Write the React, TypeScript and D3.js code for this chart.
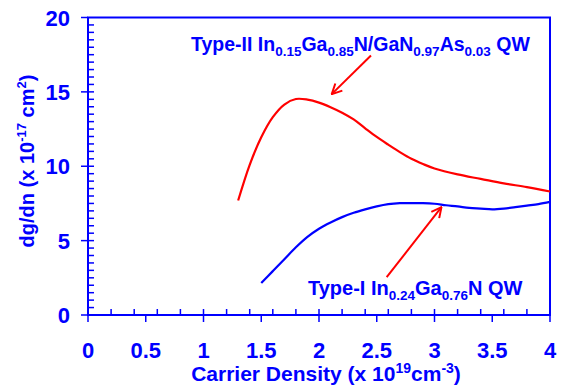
import React from 'react';
import * as d3 from 'd3';

// Type-II InGaN/GaNAs QW (red)
const redX = [1.3, 1.4, 1.5, 1.6, 1.7, 1.8, 1.9, 2.0, 2.1, 2.2, 2.3, 2.4, 2.5, 2.6, 2.7, 2.8, 2.9, 3.0, 3.2, 3.4, 3.6, 3.8, 4.0];
const redY = [7.7, 10.1, 11.95, 13.3, 14.15, 14.52, 14.48, 14.28, 13.97, 13.6, 13.15, 12.55, 11.97, 11.45, 10.95, 10.5, 10.15, 9.85, 9.45, 9.15, 8.85, 8.6, 8.3];

// Type-I InGaN QW (blue)
const blueX = [1.5, 1.6, 1.7, 1.8, 1.9, 2.0, 2.1, 2.2, 2.3, 2.4, 2.5, 2.6, 2.7, 2.8, 2.9, 3.0, 3.1, 3.2, 3.3, 3.4, 3.5, 3.6, 3.7, 3.8, 3.9, 4.0];
const blueY = [2.15, 2.95, 3.75, 4.55, 5.25, 5.8, 6.22, 6.58, 6.87, 7.1, 7.3, 7.45, 7.52, 7.52, 7.52, 7.48, 7.38, 7.3, 7.2, 7.15, 7.1, 7.15, 7.25, 7.35, 7.45, 7.6];

const xMajor = [0, 0.5, 1, 1.5, 2, 2.5, 3, 3.5, 4];
const xMinor = d3.range(0, 20).map(i => i * 0.2);
const yMajor = [0, 5, 10, 15, 20];
const yMinor = d3.range(0, 40).map(i => i * 0.5);

// arrows: [from, to] in data units
const arrowII = [[2.45, 17.45], [2.11, 14.85]];
const arrowI = [[2.586, 2.54], [3.06, 7.25]];

const BLUE = '#0000ff';
const RED = '#ff0000';
const FONT = '"Liberation Sans", Arial, sans-serif';

export default function App() {
  const width = 570;
  const height = 387;
  const m = { left: 88, right: 550, top: 17.5, bottom: 315 };

  const x = d3.scaleLinear().domain([0, 4]).range([m.left, m.right]);
  const y = d3.scaleLinear().domain([0, 20]).range([m.bottom, m.top]);

  const line = d3.line<[number, number]>()
    .x(d => x(d[0]))
    .y(d => y(d[1]))
    .curve(d3.curveCatmullRom.alpha(0.5));

  const redPath = line(redX.map((v, i) => [v, redY[i]] as [number, number])) || '';
  const bluePath = line(blueX.map((v, i) => [v, blueY[i]] as [number, number])) || '';

  return (
    <div style={{ position: 'fixed', left: 0, top: 0 }}>
      <svg width={width} height={height} style={{ display: 'block', background: '#fff' }} fontFamily={FONT}>
        <defs>
          <marker id="arr" viewBox="0 0 12 12" refX="11" refY="6" markerWidth="12" markerHeight="12" markerUnits="userSpaceOnUse" orient="auto">
            <path d="M1,1 L11,6 L1,11" fill="none" stroke={RED} strokeWidth="2" />
          </marker>
        </defs>

        {/* minor ticks (inside) */}
        {xMinor.map(v => (
          <line key={'xm' + v} x1={x(v)} x2={x(v)} y1={m.bottom} y2={m.bottom - 6} stroke={BLUE} strokeWidth="1.5" />
        ))}
        {yMinor.map(v => (
          <line key={'ym' + v} x1={m.left} x2={m.left + 6} y1={y(v)} y2={y(v)} stroke={BLUE} strokeWidth="1.5" />
        ))}
        {/* major ticks (outside) */}
        {xMajor.map(v => (
          <line key={'xM' + v} x1={x(v)} x2={x(v)} y1={m.bottom} y2={m.bottom + 7} stroke={BLUE} strokeWidth="1.5" />
        ))}
        {yMajor.map(v => (
          <line key={'yM' + v} x1={m.left - 7} x2={m.left} y1={y(v)} y2={y(v)} stroke={BLUE} strokeWidth="1.5" />
        ))}

        {/* frame */}
        <rect x={m.left} y={m.top} width={m.right - m.left} height={m.bottom - m.top} fill="none" stroke={BLUE} strokeWidth="2" />

        {/* tick labels */}
        {xMajor.map(v => (
          <text key={'xl' + v} x={x(v)} y={358} textAnchor="middle" fontSize="22" fontWeight="bold" fill={BLUE}>{v}</text>
        ))}
        {yMajor.map(v => (
          <text key={'yl' + v} x={70} y={y(v) + 8} textAnchor="end" fontSize="22" fontWeight="bold" fill={BLUE}>{v}</text>
        ))}

        {/* axis titles */}
        <text x={326} y={381} textAnchor="middle" fontSize="21" fontWeight="bold" fill={BLUE}>
          Carrier Density (x 10<tspan fontSize="14" dy="-8">19</tspan><tspan dy="8">cm</tspan><tspan fontSize="14" dy="-8">-3</tspan><tspan dy="8">)</tspan>
        </text>
        <text transform="translate(34,161) rotate(-90)" textAnchor="middle" fontSize="20" fontWeight="bold" fill={BLUE}>
          dg/dn (x 10<tspan fontSize="13" dy="-8">-17</tspan><tspan dy="8"> cm</tspan><tspan fontSize="13" dy="-8">2</tspan><tspan dy="8">)</tspan>
        </text>

        {/* curves */}
        <path d={redPath} fill="none" stroke={RED} strokeWidth="2.2" />
        <path d={bluePath} fill="none" stroke={BLUE} strokeWidth="2.2" />

        {/* arrows */}
        <line x1={x(arrowII[0][0])} y1={y(arrowII[0][1])} x2={x(arrowII[1][0])} y2={y(arrowII[1][1])} stroke={RED} strokeWidth="2" markerEnd="url(#arr)" />
        <line x1={x(arrowI[0][0])} y1={y(arrowI[0][1])} x2={x(arrowI[1][0])} y2={y(arrowI[1][1])} stroke={RED} strokeWidth="2" markerEnd="url(#arr)" />

        {/* annotations */}
        <text x={191} y={51} fontSize="19.5" fontWeight="bold" fill={BLUE}>
          Type-II In<tspan fontSize="13.5" dy="5">0.15</tspan><tspan dy="-5">Ga</tspan><tspan fontSize="13.5" dy="5">0.85</tspan><tspan dy="-5">N/GaN</tspan><tspan fontSize="13.5" dy="5">0.97</tspan><tspan dy="-5">As</tspan><tspan fontSize="13.5" dy="5">0.03</tspan><tspan dy="-5"> QW</tspan>
        </text>
        <text x={308} y={295} fontSize="20" fontWeight="bold" fill={BLUE}>
          Type-I In<tspan fontSize="13.5" dy="5">0.24</tspan><tspan dy="-5">Ga</tspan><tspan fontSize="13.5" dy="5">0.76</tspan><tspan dy="-5">N QW</tspan>
        </text>
      </svg>
    </div>
  );
}
